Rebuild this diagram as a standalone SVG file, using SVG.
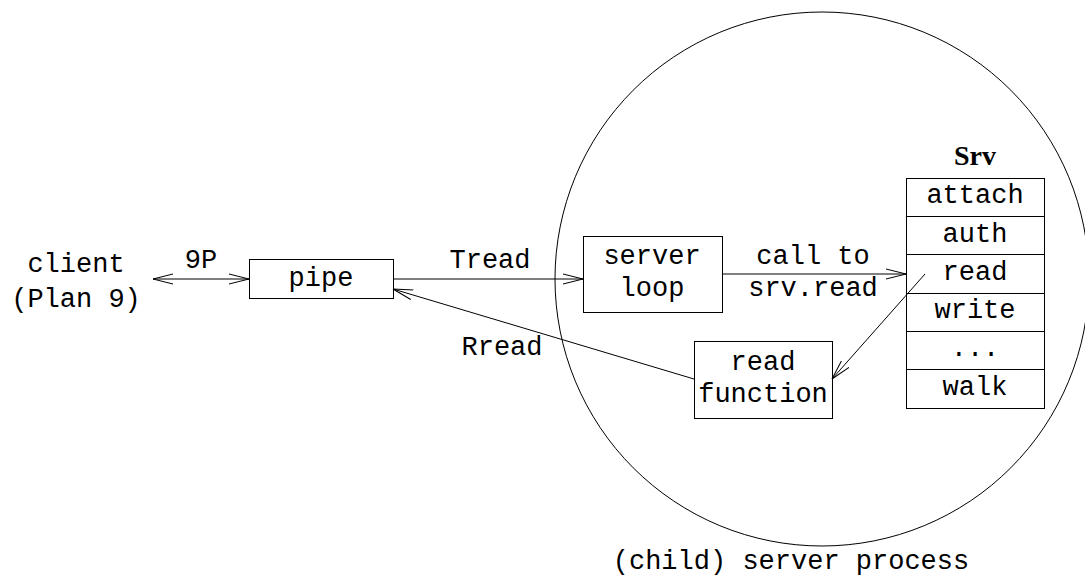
<svg xmlns="http://www.w3.org/2000/svg" width="1085" height="578" viewBox="0 0 1085 578">
<style>
.t{font-family:"Liberation Mono","Courier New",monospace;font-size:27px;fill:#000;text-anchor:middle}
.b{font-family:"Liberation Serif","Times New Roman",serif;font-size:28px;font-weight:bold;fill:#000;text-anchor:middle}
.box{fill:#fff;stroke:#000;stroke-width:1}
.ln{fill:none;stroke:#000;stroke-width:1}
</style>
<defs>
<marker id="ah" markerUnits="userSpaceOnUse" markerWidth="24" markerHeight="14" refX="20" refY="6" orient="auto-start-reverse" viewBox="0 0 24 14">
<path d="M0,1 L20,6 L0,11" fill="none" stroke="#000" stroke-width="1"/>
</marker>
</defs>
<rect width="1085" height="578" fill="#fff"/>
<g id="process">
<circle cx="822" cy="279" r="267" class="ln"/>
<text class="t" x="791" y="569">(child) server process</text>
</g>
<g id="client">
<text class="t" x="76" y="272">client</text>
<text class="t" x="76" y="307">(Plan 9)</text>
</g>
<g id="pipe">
<rect class="box" x="249.5" y="259.5" width="144" height="39"/>
<text class="t" x="321" y="286">pipe</text>
</g>
<g id="serverloop">
<rect class="box" x="583.5" y="236.5" width="139" height="76"/>
<text class="t" x="652" y="264">server</text>
<text class="t" x="652" y="296">loop</text>
</g>
<g id="readfunction">
<rect class="box" x="694.5" y="341.5" width="138" height="77"/>
<text class="t" x="763" y="370">read</text>
<text class="t" x="763" y="402">function</text>
</g>
<g id="srv">
<text class="b" x="975" y="165">Srv</text>
<rect class="box" x="906.5" y="178.5" width="138" height="230"/>
<path class="ln" d="M906,216.5H1045M906,254.5H1045M906,293.5H1045M906,331.5H1045M906,369.5H1045"/>
<text class="t" x="975" y="203">attach</text>
<text class="t" x="975" y="242">auth</text>
<text class="t" x="975" y="280">read</text>
<text class="t" x="975" y="318">write</text>
<text class="t" x="975" y="356">...</text>
<text class="t" x="975" y="395">walk</text>
</g>
<g id="connectors">
<line class="ln" x1="153" y1="279" x2="249" y2="279" marker-start="url(#ah)" marker-end="url(#ah)"/>
<text class="t" x="201" y="268">9P</text>
<line class="ln" x1="393" y1="279" x2="583" y2="279" marker-end="url(#ah)"/>
<text class="t" x="490" y="268">Tread</text>
<line class="ln" x1="722" y1="274" x2="906" y2="274" marker-end="url(#ah)"/>
<text class="t" x="813" y="264">call to</text>
<text class="t" x="813" y="296">srv.read</text>
<line class="ln" x1="925" y1="274" x2="832" y2="379" marker-end="url(#ah)"/>
<line class="ln" x1="694" y1="379" x2="393" y2="289" marker-end="url(#ah)"/>
<text class="t" x="502" y="355">Rread</text>
</g>
</svg>
